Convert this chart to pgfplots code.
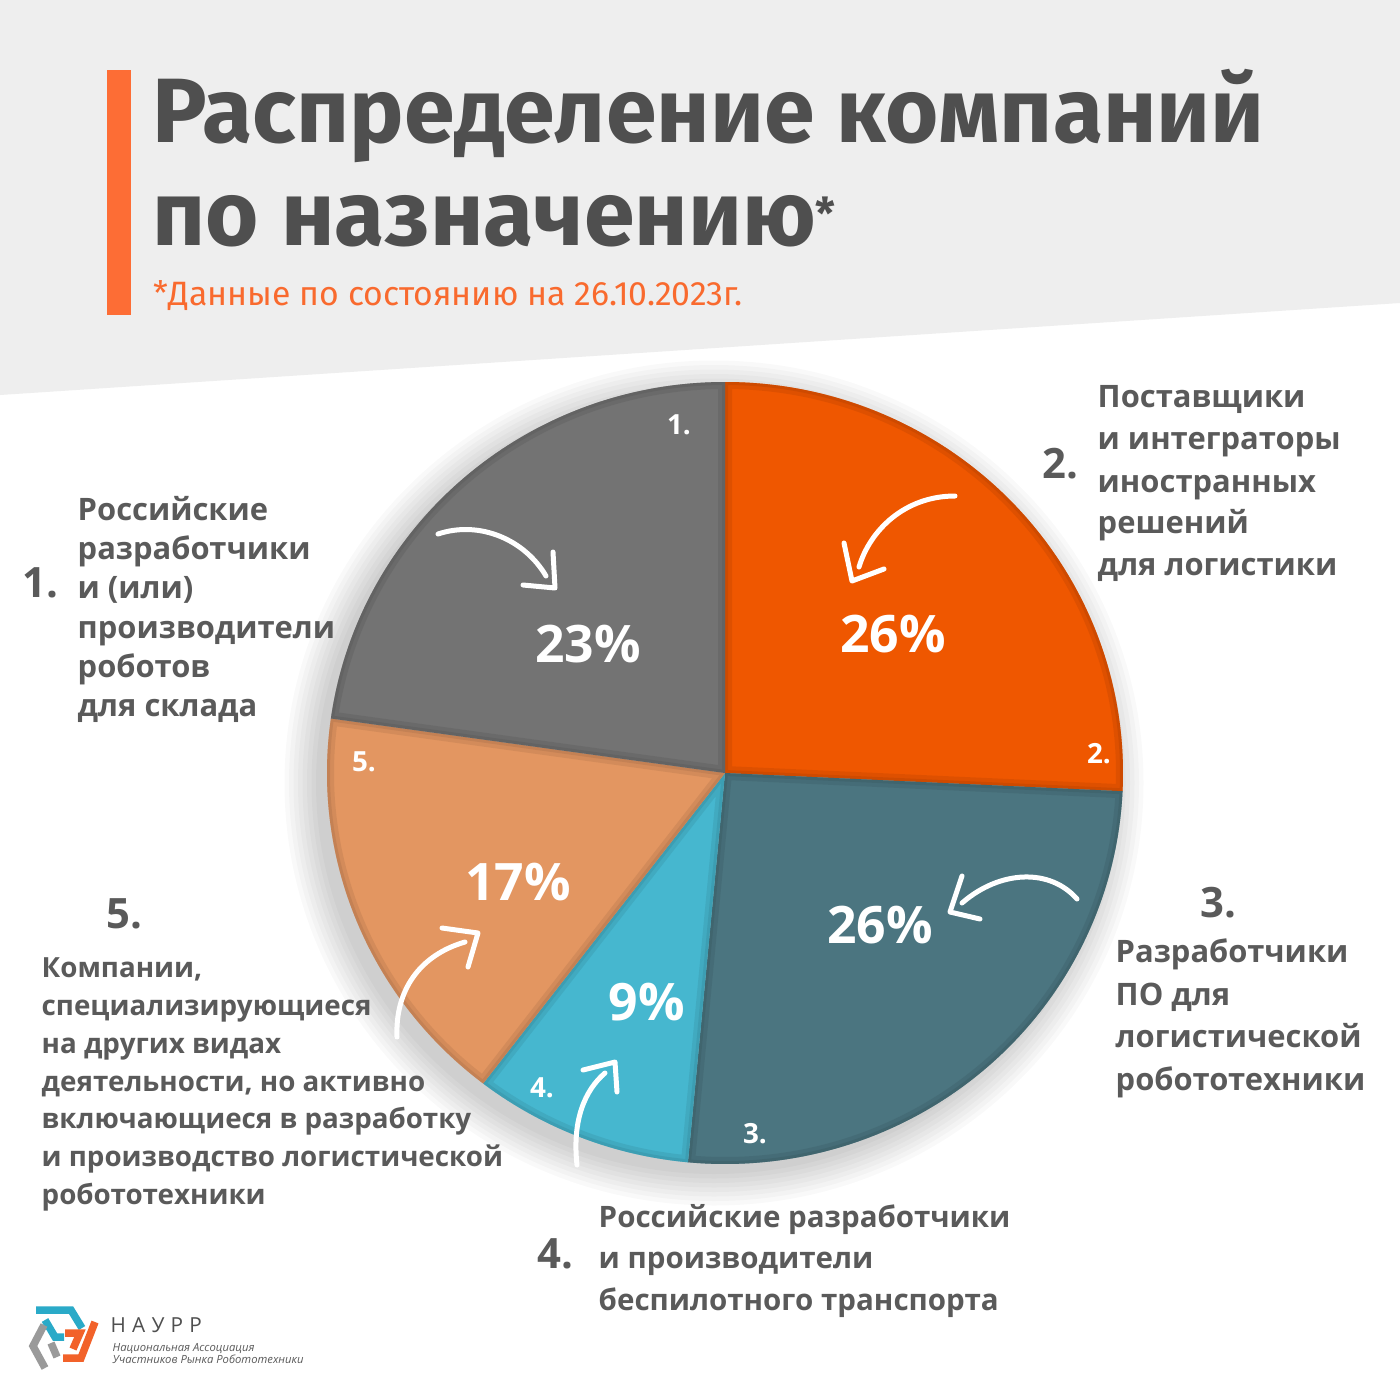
\documentclass[border=0pt]{standalone}
\usepackage{fontspec}
\setmainfont{Open Sans}
\newfontfamily\titlefont{Fira Sans}
\newfontfamily\logofont[LetterSpace=30]{Open Sans}
\usepackage{pgfplots}
\usepackage{pgfplotstable}
\pgfplotsset{compat=1.18}
\usetikzlibrary{arrows.meta}

\definecolor{bggray}{HTML}{EEEEEE}
\definecolor{titlegray}{HTML}{4F4F4F}
\definecolor{labelgray}{HTML}{5A5A5A}
\definecolor{accent}{HTML}{FD6D35}
\definecolor{subor}{HTML}{F96A2E}
\definecolor{cgrey}{HTML}{737373}
\definecolor{corange}{HTML}{EF5700}
\definecolor{cteal}{HTML}{4B7580}
\definecolor{ccyan}{HTML}{46B7CF}
\definecolor{cpeach}{HTML}{E39661}
\definecolor{lteal}{HTML}{2AAAC8}
\definecolor{lgray}{HTML}{9A9A9A}
\definecolor{lorange}{HTML}{F2622A}

\pgfplotstableread{
id value
1 23
2 26
3 26
4 9
5 17
}\piedata

\pgfplotstablegetelem{0}{value}\of\piedata \let\vA\pgfplotsretval
\pgfplotstablegetelem{1}{value}\of\piedata \let\vB\pgfplotsretval
\pgfplotstablegetelem{2}{value}\of\piedata \let\vC\pgfplotsretval
\pgfplotstablegetelem{3}{value}\of\piedata \let\vD\pgfplotsretval
\pgfplotstablegetelem{4}{value}\of\piedata \let\vE\pgfplotsretval
\pgfmathsetmacro\tot{\vA+\vB+\vC+\vD+\vE}
\pgfmathsetmacro\aO{90}
\pgfmathsetmacro\aB{\aO-\vB*360/\tot}
\pgfmathsetmacro\aC{\aB-\vC*360/\tot}
\pgfmathsetmacro\aD{\aC-\vD*360/\tot}
\pgfmathsetmacro\aE{\aD-\vE*360/\tot}
\pgfmathsetmacro\aA{\aE-\vA*360/\tot}

\newcommand\lblfont{\fontsize{8.8pt}{10pt}\selectfont\bfseries}
\newcommand\lblfontb{\fontsize{8.4pt}{10pt}\selectfont\bfseries}
\newcommand\lblfontc{\fontsize{7.9pt}{9pt}\selectfont\bfseries}
\newcommand\numfont{\fontsize{11.9pt}{13pt}\selectfont\bfseries}
\newcommand\pctfont{\fontsize{14.7pt}{17pt}\selectfont\bfseries}
\newcommand\snfont{\fontsize{7.9pt}{9pt}\selectfont\bfseries}
\newcommand\secpath[2]{(axis cs:725,773) -- ++({3.98cm*cos(#1)},{3.91cm*sin(#1)}) arc[start angle=#1,end angle=#2,x radius=3.98cm,y radius=3.91cm] -- cycle}
\newcommand\sector[3]{%
  \fill[#3] \secpath{#1}{#2};
  \begin{scope}
    \clip \secpath{#1}{#2};
    \draw[#3!75!black, line width=1.4mm, opacity=0.28, line join=round] \secpath{#1}{#2};
    \draw[#3!75!black, line width=0.6mm, opacity=0.35, line join=round] \secpath{#1}{#2};
  \end{scope}}

\begin{document}%
\begin{tikzpicture}
\begin{axis}[name=ax,width=14cm,height=14cm,scale only axis,
  xmin=0,xmax=1400,ymin=0,ymax=1400,y dir=reverse,hide axis,clip=false]
% background
\fill[white] (axis cs:0,0) rectangle (axis cs:1400,1400);
\fill[bggray] (axis cs:0,0) -- (axis cs:1400,0) -- (axis cs:1400,303) -- (axis cs:0,395) -- cycle;
% title block
\fill[accent] (axis cs:107,70) rectangle (axis cs:131,315);
\node[anchor=base west,inner sep=0,text=titlegray,font=\titlefont\fontsize{26pt}{30pt}\selectfont\bfseries] at (axis cs:152,142) {Распределение компаний};
\node[anchor=base west,inner sep=0,text=titlegray,font=\titlefont\fontsize{26pt}{30pt}\selectfont\bfseries] at (axis cs:152,245) {по назначению{\fontsize{12.5pt}{14pt}\selectfont\raisebox{4.5pt}{*}}};
\node[anchor=base west,inner sep=0,text=subor,font=\titlefont\fontsize{9.6pt}{11pt}\selectfont] at (axis cs:153,305) {*Данные по состоянию на 26.10.2023г.};
% shadow
\pgfplotsinvokeforeach{0,...,7}{
  \fill[black,opacity=0.022] (axis cs:714,783) ellipse[x radius={3.98cm+#1*0.45mm},y radius={3.91cm+#1*0.45mm}];
}
% pie
\sector{\aO}{\aB}{corange}
\sector{\aB}{\aC}{cteal}
\sector{\aC}{\aD}{ccyan}
\sector{\aD}{\aE}{cpeach}
\sector{\aE}{\aA}{cgrey}
% percentages
\node[anchor=base,inner sep=0,text=white,font=\pctfont] at (axis cs:588,662) {23\%};
\node[anchor=base,inner sep=0,text=white,font=\pctfont] at (axis cs:893,652) {26\%};
\node[anchor=base,inner sep=0,text=white,font=\pctfont] at (axis cs:880,943) {26\%};
\node[anchor=base,inner sep=0,text=white,font=\pctfont] at (axis cs:518,900) {17\%};
\node[anchor=base,inner sep=0,text=white,font=\pctfont] at (axis cs:647,1020) {9\%};
% slice numbers
\node[anchor=base,inner sep=0,text=white,font=\snfont] at (axis cs:679,434) {1.};
\node[anchor=base,inner sep=0,text=white,font=\snfont] at (axis cs:1099,763) {2.};
\node[anchor=base,inner sep=0,text=white,font=\snfont] at (axis cs:755,1143) {3.};
\node[anchor=base,inner sep=0,text=white,font=\snfont] at (axis cs:542,1097) {4.};
\node[anchor=base,inner sep=0,text=white,font=\snfont] at (axis cs:364,771) {5.};
% arrows
\begin{scope}[white,line width=0.5mm,line cap=round,line join=round]
\draw (axis cs:438,534) .. controls (axis cs:480,520) and (axis cs:525,540) .. (axis cs:546,576);
\draw (axis cs:553,552) -- (axis cs:555,588) -- (axis cs:523,585);
\draw (axis cs:955,496) .. controls (axis cs:905,496) and (axis cs:870,530) .. (axis cs:859,567);
\draw (axis cs:844,543) -- (axis cs:852,581) -- (axis cs:884,569);
\draw (axis cs:1077,899) .. controls (axis cs:1050,868) and (axis cs:1000,870) .. (axis cs:962,903);
\draw (axis cs:962,876) -- (axis cs:950,912) -- (axis cs:980,919);
\draw (axis cs:397,1037) .. controls (axis cs:395,990) and (axis cs:420,955) .. (axis cs:465,942);
\draw (axis cs:442,928) -- (axis cs:478,933) -- (axis cs:468,967);
\draw (axis cs:577,1165) .. controls (axis cs:572,1120) and (axis cs:585,1090) .. (axis cs:605,1073);
\draw (axis cs:583,1070) -- (axis cs:615,1062) -- (axis cs:617,1092);
\end{scope}
% label 1
\node[anchor=base west,inner sep=0,text=labelgray,font=\numfont] at (axis cs:22,597) {1.};
\node[anchor=base west,inner sep=0,text=labelgray,font=\lblfont] at (axis cs:77,520) {Российские};
\node[anchor=base west,inner sep=0,text=labelgray,font=\lblfont] at (axis cs:77,559) {разработчики};
\node[anchor=base west,inner sep=0,text=labelgray,font=\lblfont] at (axis cs:77,598) {и (или)};
\node[anchor=base west,inner sep=0,text=labelgray,font=\lblfont] at (axis cs:77,638) {производители};
\node[anchor=base west,inner sep=0,text=labelgray,font=\lblfont] at (axis cs:77,677) {роботов};
\node[anchor=base west,inner sep=0,text=labelgray,font=\lblfont] at (axis cs:77,716) {для склада};
% label 2
\node[anchor=base west,inner sep=0,text=labelgray,font=\numfont] at (axis cs:1042,478) {2.};
\node[anchor=base west,inner sep=0,text=labelgray,font=\lblfont] at (axis cs:1097,407) {Поставщики};
\node[anchor=base west,inner sep=0,text=labelgray,font=\lblfont] at (axis cs:1097,449) {и интеграторы};
\node[anchor=base west,inner sep=0,text=labelgray,font=\lblfont] at (axis cs:1097,492) {иностранных};
\node[anchor=base west,inner sep=0,text=labelgray,font=\lblfont] at (axis cs:1097,533) {решений};
\node[anchor=base west,inner sep=0,text=labelgray,font=\lblfont] at (axis cs:1097,575) {для логистики};
% label 3
\node[anchor=base west,inner sep=0,text=labelgray,font=\numfont] at (axis cs:1200,917) {3.};
\node[anchor=base west,inner sep=0,text=labelgray,font=\lblfont] at (axis cs:1115,962) {Разработчики};
\node[anchor=base west,inner sep=0,text=labelgray,font=\lblfont] at (axis cs:1115,1005) {ПО для};
\node[anchor=base west,inner sep=0,text=labelgray,font=\lblfont] at (axis cs:1115,1047) {логистической};
\node[anchor=base west,inner sep=0,text=labelgray,font=\lblfont] at (axis cs:1115,1090) {робототехники};
% label 4
\node[anchor=base west,inner sep=0,text=labelgray,font=\numfont] at (axis cs:537,1268) {4.};
\node[anchor=base west,inner sep=0,text=labelgray,font=\lblfontb] at (axis cs:598,1227) {Российские разработчики};
\node[anchor=base west,inner sep=0,text=labelgray,font=\lblfontb] at (axis cs:598,1268) {и производители};
\node[anchor=base west,inner sep=0,text=labelgray,font=\lblfontb] at (axis cs:598,1310) {беспилотного транспорта};
% label 5
\node[anchor=base west,inner sep=0,text=labelgray,font=\numfont] at (axis cs:106,928) {5.};
\node[anchor=base west,inner sep=0,text=labelgray,font=\lblfontc] at (axis cs:41,977) {Компании,};
\node[anchor=base west,inner sep=0,text=labelgray,font=\lblfontc] at (axis cs:41,1015) {специализирующиеся};
\node[anchor=base west,inner sep=0,text=labelgray,font=\lblfontc] at (axis cs:41,1053) {на других видах};
\node[anchor=base west,inner sep=0,text=labelgray,font=\lblfontc] at (axis cs:41,1091) {деятельности, но активно};
\node[anchor=base west,inner sep=0,text=labelgray,font=\lblfontc] at (axis cs:41,1128) {включающиеся в разработку};
\node[anchor=base west,inner sep=0,text=labelgray,font=\lblfontc] at (axis cs:41,1166) {и производство логистической};
\node[anchor=base west,inner sep=0,text=labelgray,font=\lblfontc] at (axis cs:41,1204) {робототехники};
% logo
\begin{scope}[line width=0.75mm,line cap=butt,line join=miter]
\draw[lteal] (axis cs:36,1310) -- (axis cs:71,1310) -- (axis cs:82,1328);
\draw[lteal] (axis cs:45,1320) -- (axis cs:55,1337) -- (axis cs:64,1337);
\draw[lorange] (axis cs:95,1322) -- (axis cs:81,1358) -- (axis cs:63,1358);
\draw[lorange] (axis cs:65,1333) -- (axis cs:80,1333) -- (axis cs:73,1349);
\draw[lgray] (axis cs:44,1325) -- (axis cs:33,1346) -- (axis cs:45,1368);
\draw[lgray] (axis cs:51,1343) -- (axis cs:57,1357);
\end{scope}
\node[anchor=base west,inner sep=0,text=titlegray,font=\logofont\fontsize{5.9pt}{7pt}\selectfont] at (axis cs:110,1332) {НАУРР};
\node[anchor=base west,inner sep=0,text=labelgray,font=\fontsize{3.2pt}{4pt}\selectfont\itshape] at (axis cs:112,1351) {Национальная Ассоциация};
\node[anchor=base west,inner sep=0,text=labelgray,font=\fontsize{3.2pt}{4pt}\selectfont\itshape] at (axis cs:112,1363) {Участников Рынка Робототехники};
\end{axis}
\pgfresetboundingbox
\path[use as bounding box] (ax.south west) rectangle (ax.north east);
\end{tikzpicture}%
\end{document}
